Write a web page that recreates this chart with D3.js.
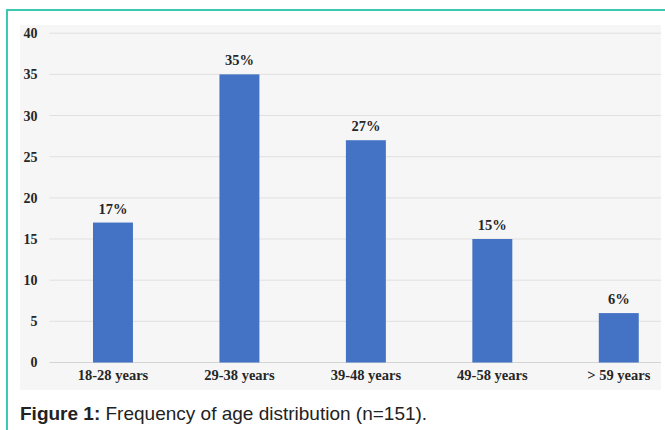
<!DOCTYPE html>
<html>
<head>
<meta charset="utf-8">
<script src="https://cdn.jsdelivr.net/npm/d3@7"></script>
<style>
  html, body { margin: 0; padding: 0; background: #ffffff; }
  svg { display: block; }
</style>
</head>
<body>
<svg id="chart" width="665" height="430"></svg>
<script>
// Age groups and share of respondents (%)
const categories = ["18-28 years", "29-38 years", "39-48 years", "49-58 years", "> 59 years"];
const values = [17, 35, 27, 15, 6];
const yTicks = [0, 5, 10, 15, 20, 25, 30, 35, 40];
const caption = { bold: "Figure 1:", text: " Frequency of age distribution (n=151)." };

const svg = d3.select("#chart");
const W = 665, H = 430;

// Frame lines of the figure box
svg.append("line").attr("x1", 7).attr("x2", W).attr("y1", 10).attr("y2", 10)
  .attr("stroke", "#3cc9b2").attr("stroke-width", 2);
svg.append("line").attr("x1", 7).attr("x2", 7).attr("y1", 9).attr("y2", H)
  .attr("stroke", "#3cc9b2").attr("stroke-width", 2);

// Plot panel background
const panel = { x0: 20, x1: 661, y0: 25, y1: 390 };
svg.append("rect").attr("x", panel.x0).attr("y", panel.y0)
  .attr("width", panel.x1 - panel.x0).attr("height", panel.y1 - panel.y0)
  .attr("fill", "#f6f6f6");

svg.append("clipPath").attr("id", "panelClip")
  .append("rect").attr("x", panel.x0).attr("y", panel.y0)
  .attr("width", panel.x1 - panel.x0).attr("height", panel.y1 - panel.y0);

const y = d3.scaleLinear().domain([0, 40]).range([362.5, 33.2]);
const x = d3.scaleBand().domain(categories).range([49.75, 682])
  .paddingInner(0.684).paddingOuter(0.342);

const serif = "'Liberation Serif', 'Times New Roman', serif";
const g = svg.append("g").attr("clip-path", "url(#panelClip)");

// Horizontal gridlines
g.selectAll("line.grid").data(yTicks).join("line")
  .attr("class", "grid")
  .attr("x1", 49.5).attr("x2", panel.x1)
  .attr("y1", d => y(d)).attr("y2", d => y(d))
  .attr("stroke", d => d === 0 ? "#d4d4d4" : "#e0e0e0").attr("stroke-width", 1);

// Y tick labels
const yAxis = d3.axisLeft(y).tickValues(yTicks).tickSize(0).tickPadding(0);
const ya = svg.append("g").attr("transform", "translate(37.5,0)").call(yAxis);
ya.select(".domain").remove();
ya.selectAll("text")
  .attr("font-family", serif).attr("font-weight", "bold").attr("font-size", "14px")
  .attr("fill", "#262626");

// Bars
g.selectAll("rect.bar").data(values).join("rect")
  .attr("class", "bar")
  .attr("x", (d, i) => x(categories[i]))
  .attr("width", x.bandwidth())
  .attr("y", d => y(d))
  .attr("height", d => y(0) - y(d))
  .attr("fill", "#4472c4");

// Value labels
g.selectAll("text.val").data(values).join("text")
  .attr("class", "val")
  .attr("x", (d, i) => x(categories[i]) + x.bandwidth() / 2)
  .attr("y", d => y(d) - 9)
  .attr("text-anchor", "middle")
  .attr("font-family", serif).attr("font-weight", "bold").attr("font-size", "14.5px")
  .attr("fill", "#262626")
  .text(d => d + "%");

// Category labels
const xAxis = d3.axisBottom(x).tickSize(0).tickPadding(0);
const xa = svg.append("g").attr("transform", "translate(0,370)").call(xAxis);
xa.select(".domain").remove();
xa.selectAll("text")
  .attr("font-family", serif).attr("font-weight", "bold").attr("font-size", "14.5px")
  .attr("fill", "#262626");

// Caption
const cap = svg.append("text").attr("x", 20).attr("y", 420)
  .attr("font-family", "'Liberation Sans', Arial, sans-serif").attr("font-size", "19px")
  .attr("fill", "#222");
cap.append("tspan").attr("font-weight", "bold").text(caption.bold);
cap.append("tspan").text(caption.text);
</script>
</body>
</html>
